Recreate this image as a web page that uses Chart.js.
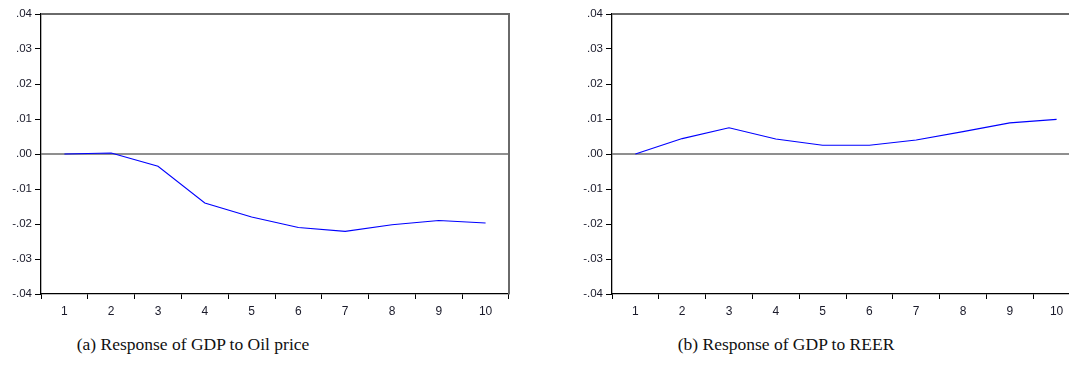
<!DOCTYPE html>
<html>
<head>
<meta charset="utf-8">
<script src="https://cdn.jsdelivr.net/npm/chart.js@4/dist/chart.umd.min.js"></script>
<style>
  html, body { margin:0; padding:0; background:#fff; overflow:hidden; width:1069px; height:379px; }
  canvas { position:absolute; top:0; }
  #left { left:0; }
  #right { left:571px; }
  .cap { position:absolute; top:334px; font-family:"Liberation Serif", "DejaVu Serif", serif; font-size:17.5px; color:#111; white-space:nowrap; transform:translateX(-50%); }
</style>
</head>
<body>
<canvas id="left" width="530" height="320"></canvas>
<canvas id="right" width="530" height="320"></canvas>
<div class="cap" style="left:193px">(a) Response of GDP to Oil price</div>
<div class="cap" style="left:786px">(b) Response of GDP to REER</div>
<script>
// impulse response periods and values
var periods = ["1","2","3","4","5","6","7","8","9","10"];
var oilResponse  = [0, 0.0003, -0.0035, -0.014, -0.018, -0.021, -0.0221, -0.0202, -0.019, -0.0197];
var reerResponse = [0, 0.0044, 0.0075, 0.0043, 0.0025, 0.0025, 0.004, 0.0064, 0.0089, 0.0099];
var yMin = -0.04, yMax = 0.04, yStep = 0.01;

// grey frame on top/right plus the zero line
var framePlugin = {
  id: "frame",
  beforeDatasetsDraw(chart){
    let c = chart.ctx, a = chart.chartArea;
    let y0 = chart.scales.y.getPixelForValue(0);
    c.save();
    c.strokeStyle = "#6a6a6a";
    c.lineWidth = 1.4;
    c.beginPath();
    c.moveTo(a.left, y0); c.lineTo(a.right, y0);
    c.stroke();
    c.lineWidth = 2;
    c.beginPath();
    c.moveTo(a.left, a.top); c.lineTo(a.right, a.top); c.lineTo(a.right, a.bottom);
    c.stroke();
    c.restore();
  }
};

function fmt(v){
  let s = Number(v).toFixed(2);
  return s.replace("0.", ".");
}

function makeChart(id, values){
  let ctx = document.getElementById(id).getContext('2d');
  return new Chart(ctx, {
    type: 'line',
    data: {
      labels: periods,
      datasets: [{
        data: values,
        borderColor: "#0000ff",
        borderWidth: 1.1,
        pointRadius: 0,
        tension: 0,
        fill: false
      }]
    },
    options: {
      responsive: false,
      animation: false,
      layout: { padding: { left: 0, top: 14, right: 21, bottom: 0 } },
      plugins: { legend: { display: false }, tooltip: { enabled: false } },
      scales: {
        x: {
          offset: true,
          grid: { offset: true, drawOnChartArea: false, tickLength: 5, color: "#000", lineWidth: 1 },
          border: { color: "#000", width: 1.3 },
          ticks: { color: "#1a1a2a", padding: 5, maxRotation: 0, font: { family: "Liberation Sans, Arial", size: 12 } },
          afterFit(s){ s.height = 26; }
        },
        y: {
          min: yMin, max: yMax,
          grid: { drawOnChartArea: false, tickLength: 6, color: "#000", lineWidth: 1 },
          border: { color: "#000", width: 1.3 },
          ticks: { stepSize: yStep, color: "#1a1a2a", padding: 3, callback: v => fmt(v), font: { family: "Liberation Sans, Arial", size: 11.5 } },
          afterFit(s){ s.width = 41; }
        }
      }
    },
    plugins: [framePlugin]
  });
}

var leftChart = makeChart("left", oilResponse);
var rightChart = makeChart("right", reerResponse);
</script>
</body>
</html>
